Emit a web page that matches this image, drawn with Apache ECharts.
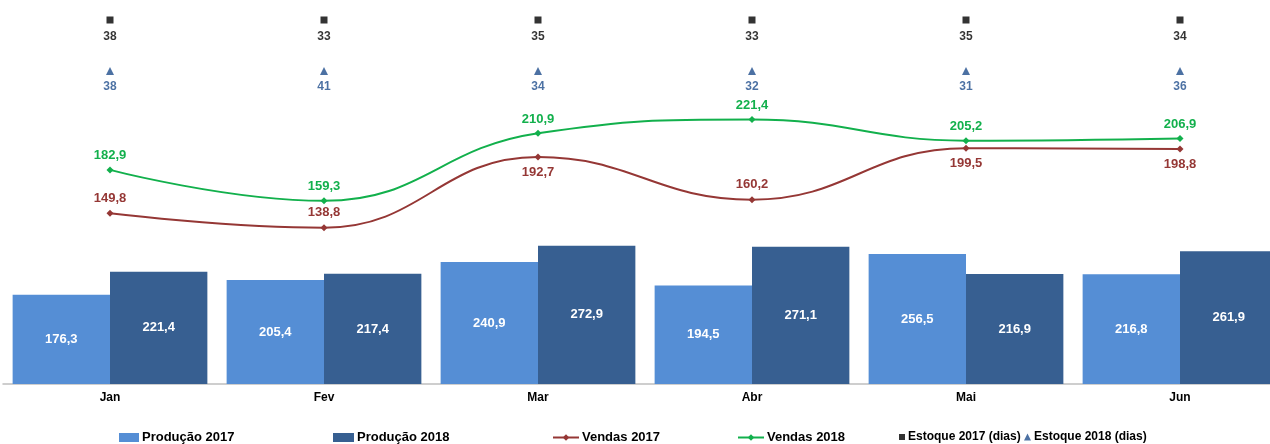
<!DOCTYPE html>
<html style="height:100%;">
<head>
    <meta charset="utf-8">
    <title>Produção, Vendas e Estoque</title>
    <script src="https://cdn.jsdelivr.net/npm/echarts@6/dist/echarts.min.js"></script>
</head>
<body style="height: 100%; margin: 0; overflow: hidden;">
    <!-- o gráfico original é cortado à direita: o div é mais largo que a janela -->
    <div id="main" style="width:1290px; height:444px;"></div>
    <script type="text/javascript">
    // dados
    var meses = ['Jan', 'Fev', 'Mar', 'Abr', 'Mai', 'Jun'];
    var producao2017 = [176.3, 205.4, 240.9, 194.5, 256.5, 216.8];
    var producao2018 = [221.4, 217.4, 272.9, 271.1, 216.9, 261.9];
    var vendas2017 = [149.8, 138.8, 192.7, 160.2, 199.5, 198.8];
    var vendas2018 = [182.9, 159.3, 210.9, 221.4, 205.2, 206.9];
    var estoque2017 = [38, 33, 35, 33, 35, 34];
    var estoque2018 = [38, 41, 34, 32, 31, 36];
    var linhasEstoque = ['Estoque 2017 (dias)', 'Estoque 2018 (dias)'];

    // posição dos rótulos da linha vermelha (estilo, não dado)
    var posRotuloV17 = ['top', 'top', 'bottom', 'top', 'bottom', 'bottom'];

    var cores = {
        p17: '#558ed5',
        p18: '#375f91',
        v17: '#953735',
        v18: '#12b04c',
        e17: '#000000',
        e18: '#1f4e8c'
    };
    var fonte = '"Liberation Sans", Arial, sans-serif';

    var gridX = { left: 3, right: 3 };

    function eixoX(idx, show) {
        return {
            type: 'category',
            gridIndex: idx,
            data: meses,
            axisTick: { show: false },
            axisLine: { show: show, lineStyle: { color: '#bfbfbf', width: 1.5 } },
            axisLabel: { show: show, color: '#000', fontWeight: 'bold', fontSize: 12, fontFamily: fonte, margin: 8 },
            splitLine: { show: false }
        };
    }

    function legenda(nome, left, icon, w, h, fs) {
        var l = {
            data: [nome],
            left: left,
            top: 426,
            itemWidth: w,
            itemHeight: h,
            itemGap: 0,
            textStyle: { color: '#000', fontWeight: 'bold', fontSize: fs || 13, fontFamily: fonte, padding: [0, 0, 0, -2] },
            selectedMode: false
        };
        if (icon) l.icon = icon;
        return l;
    }

    function fmt(p) { return p.value.toFixed(1).replace('.', ','); }

    var myChart = echarts.init(document.getElementById('main'));
    myChart.setOption({
        backgroundColor: '#fff',
        animation: false,
        textStyle: { fontFamily: fonte },
        grid: [
            { left: gridX.left, right: gridX.right, top: 232, bottom: 60 },
            { left: gridX.left, right: gridX.right, top: 82, height: 196.5 },
            { left: gridX.left, right: gridX.right, top: 20, height: 51 }
        ],
        xAxis: [eixoX(0, true), eixoX(1, false), eixoX(2, false)],
        yAxis: [
            { type: 'value', gridIndex: 0, min: 0, max: 300, show: false },
            { type: 'value', gridIndex: 1, min: 100, max: 250, show: false },
            { type: 'category', gridIndex: 2, data: linhasEstoque, inverse: true, boundaryGap: false, show: false }
        ],
        legend: [
            legenda('Produção 2017', 114, 'rect', 20, 9),
            legenda('Produção 2018', 328, 'rect', 21, 9),
            legenda('Vendas 2017', 547, null, 26, 8),
            legenda('Vendas 2018', 732, null, 26, 8),
            legenda(linhasEstoque[0], 894, 'rect', 6, 6, 12),
            legenda(linhasEstoque[1], 1019, 'triangle', 7, 7, 12)
        ],
        series: [
            {
                name: 'Produção 2017',
                type: 'bar',
                xAxisIndex: 0, yAxisIndex: 0,
                data: producao2017,
                barGap: '0%',
                barCategoryGap: '9%',
                itemStyle: { color: cores.p17 },
                label: { show: true, position: 'inside', color: '#fff', fontWeight: 'bold', fontSize: 13, formatter: fmt }
            },
            {
                name: 'Produção 2018',
                type: 'bar',
                xAxisIndex: 0, yAxisIndex: 0,
                data: producao2018,
                barGap: '0%',
                barCategoryGap: '9%',
                itemStyle: { color: cores.p18 },
                label: { show: true, position: 'inside', color: '#fff', fontWeight: 'bold', fontSize: 13, formatter: fmt }
            },
            {
                name: 'Vendas 2017',
                type: 'line',
                xAxisIndex: 1, yAxisIndex: 1,
                smooth: 0.45,
                symbol: 'diamond',
                symbolSize: 7,
                lineStyle: { color: cores.v17, width: 2 },
                itemStyle: { color: cores.v17 },
                data: vendas2017.map(function (v, i) {
                    return { value: v, label: { position: posRotuloV17[i] } };
                }),
                label: { show: true, color: cores.v17, fontWeight: 'bold', fontSize: 13, distance: 5, formatter: fmt }
            },
            {
                name: 'Vendas 2018',
                type: 'line',
                xAxisIndex: 1, yAxisIndex: 1,
                smooth: 0.45,
                symbol: 'diamond',
                symbolSize: 7,
                lineStyle: { color: cores.v18, width: 2 },
                itemStyle: { color: cores.v18 },
                data: vendas2018,
                label: { show: true, position: 'top', color: cores.v18, fontWeight: 'bold', fontSize: 13, distance: 4, formatter: fmt }
            },
            {
                name: linhasEstoque[0],
                type: 'scatter',
                xAxisIndex: 2, yAxisIndex: 2,
                symbol: 'rect',
                symbolSize: 7,
                itemStyle: { color: cores.e17 },
                data: estoque2017.map(function (v, i) { return [meses[i], linhasEstoque[0], v]; }),
                label: {
                    show: true, position: 'bottom', distance: 7, color: '#000', fontWeight: 'bold', fontSize: 12,
                    formatter: function (p) { return p.value[2]; }
                }
            },
            {
                name: linhasEstoque[1],
                type: 'scatter',
                xAxisIndex: 2, yAxisIndex: 2,
                symbol: 'triangle',
                symbolSize: 8,
                itemStyle: { color: cores.e18 },
                data: estoque2018.map(function (v, i) { return [meses[i], linhasEstoque[1], v]; }),
                label: {
                    show: true, position: 'bottom', distance: 6, color: cores.e18, fontWeight: 'bold', fontSize: 12,
                    formatter: function (p) { return p.value[2]; }
                }
            }
        ]
    });
    </script>
</body>
</html>
